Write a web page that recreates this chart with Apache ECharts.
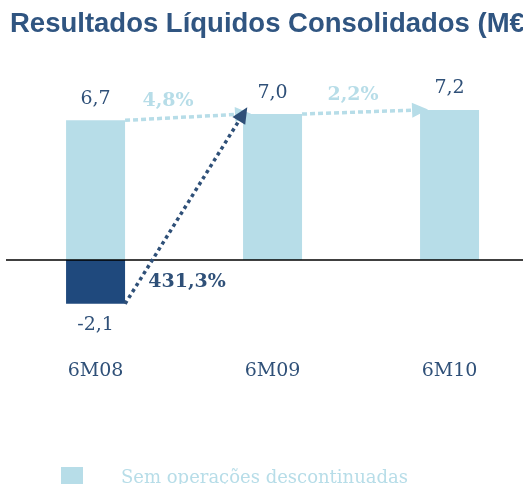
<!DOCTYPE html>
<html>
<head>
<meta charset="utf-8">
<script src="https://cdn.jsdelivr.net/npm/echarts@6/dist/echarts.min.js"></script>
<style>
  html, body { margin: 0; padding: 0; background: #fff; }
  #chart { width: 523px; height: 484px; }
</style>
</head>
<body>
<div id="chart"></div>
<script>
// dados
const categories = ['6M08', '6M09', '6M10']
const semOperacoes = [6.7, 7.0, 7.2]
const comOperacoes = [-2.1, null, null]
const variacoes = ['4,8%', '2,2%', '431,3%']

const claro = '#b7dde8'
const escuro = '#1f497d'
const texto = '#2f5078'
const serif = '"DejaVu Serif", serif'

const fmt = v => v.toFixed(1).replace('.', ',')

// meia largura da barra em unidades de categoria (barWidth = 1/3 da banda)
const meia = 1 / 6
const idx = categories.map((c, i) => i)

const chart = echarts.init(document.getElementById('chart'))

chart.setOption({
  animation: false,
  grid: { left: 6, top: 51.5, right: 0, height: 292 },
  legend: {
    data: ['Sem operações descontinuadas'],
    left: 56,
    top: 462,
    itemWidth: 22,
    itemHeight: 22,
    icon: 'rect',
    textStyle: { color: claro, fontFamily: serif, fontSize: 18, padding: [0, 0, 9, 33] }
  },
  // eixo numérico para as categorias: a última banda fica cortada à direita
  xAxis: {
    type: 'value',
    min: -0.506,
    max: 2.415,
    splitLine: { show: false },
    axisLine: { show: false },
    axisTick: { show: false },
    axisLabel: {
      customValues: idx,
      formatter: v => categories[v] ?? '',
      color: texto, fontFamily: serif, fontSize: 19, margin: 18
    }
  },
  yAxis: { type: 'value', min: -4, max: 10, show: false },
  series: [
    {
      name: 'Sem operações descontinuadas',
      type: 'bar',
      barWidth: 59,
      data: idx.map(i => [i, semOperacoes[i]]),
      itemStyle: { color: claro },
      label: {
        show: true, position: 'top', distance: 12,
        color: texto, fontFamily: serif, fontSize: 19,
        formatter: p => fmt(p.value[1])
      },
      markLine: {
        silent: true,
        symbol: 'none',
        label: { show: false },
        lineStyle: { color: '#000', type: 'solid', width: 1.5 },
        data: [{ yAxis: 0 }]
      }
    },
    {
      name: 'Com operações descontinuadas',
      type: 'bar',
      barWidth: 59,
      barGap: '-100%',
      data: idx.filter(i => comOperacoes[i] != null).map(i => [i, comOperacoes[i]]),
      itemStyle: { color: escuro },
      label: {
        show: true, position: 'bottom', distance: 12,
        color: texto, fontFamily: serif, fontSize: 19,
        formatter: p => fmt(p.value[1])
      }
    },
    {
      // setas de variação
      type: 'line',
      data: [],
      markLine: {
        silent: true,
        symbol: ['none', 'triangle'],
        symbolSize: [15, 16],
        label: { show: false },
        data: [
          [
            { coord: [0 + meia, semOperacoes[0]], lineStyle: { color: claro, type: [5, 3], width: 3.5 }, itemStyle: { color: claro } },
            { coord: [1 - meia, semOperacoes[1]] }
          ],
          [
            { coord: [1 + meia, semOperacoes[1]], lineStyle: { color: claro, type: [5, 3], width: 3.5 }, itemStyle: { color: claro } },
            { coord: [2 - meia, semOperacoes[2]] }
          ],
          [
            { coord: [0 + meia, comOperacoes[0]], lineStyle: { color: '#2f5078', type: [3.5, 3.5], width: 3.5 }, itemStyle: { color: '#2f5078' } },
            { coord: [1 - meia, semOperacoes[1]] }
          ]
        ]
      }
    }
  ],
  graphic: [
    {
      type: 'text', left: 10, top: 10,
      style: {
        text: 'Resultados Líquidos Consolidados (M€)',
        fill: '#305581', font: 'bold 27.5px "Liberation Sans", Arial, sans-serif'
      }
    },
    {
      type: 'text', x: 168, y: 101,
      style: { text: variacoes[0], fill: claro, font: 'bold 19px "DejaVu Serif", serif', align: 'center', verticalAlign: 'middle' }
    },
    {
      type: 'text', x: 353, y: 95,
      style: { text: variacoes[1], fill: claro, font: 'bold 19px "DejaVu Serif", serif', align: 'center', verticalAlign: 'middle' }
    },
    {
      type: 'text', x: 187, y: 282,
      style: { text: variacoes[2], fill: texto, font: 'bold 19px "DejaVu Serif", serif', align: 'center', verticalAlign: 'middle' }
    }
  ]
})
</script>
</body>
</html>
